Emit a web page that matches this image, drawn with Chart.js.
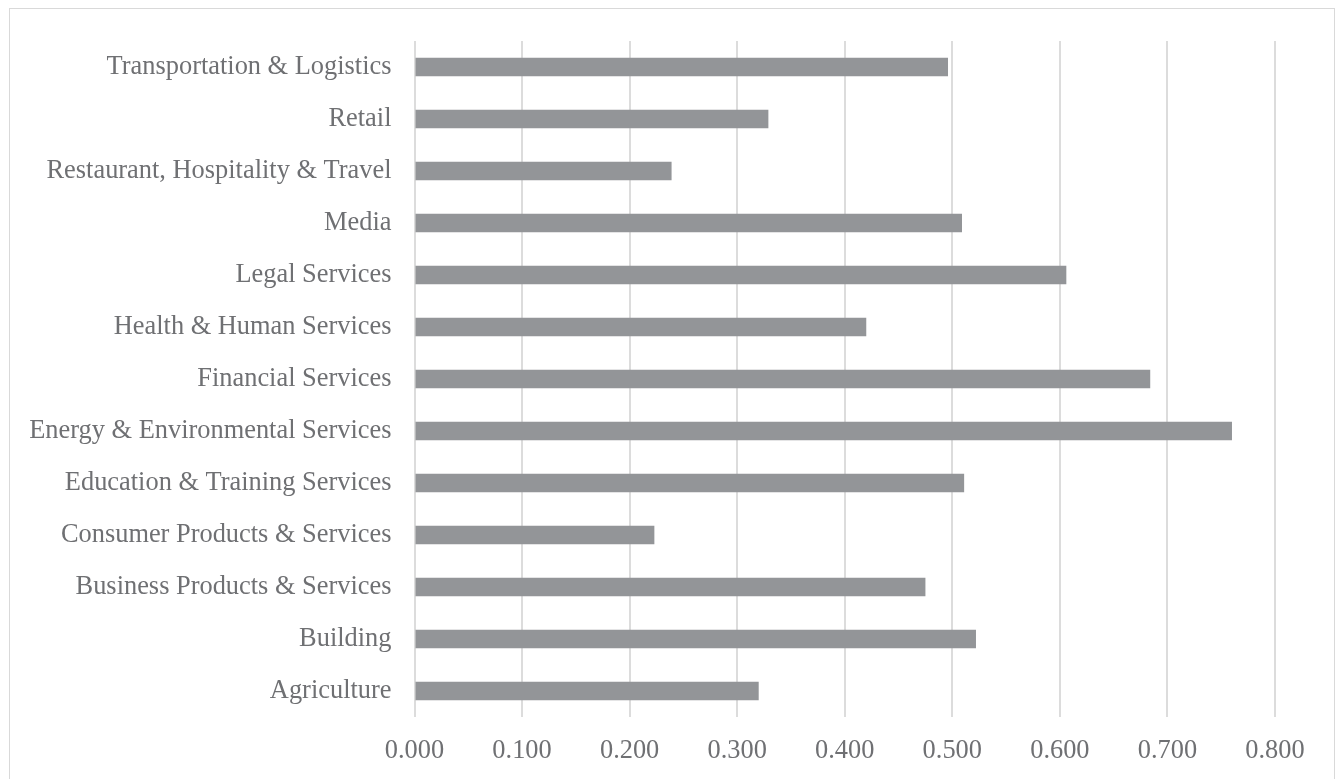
<!DOCTYPE html>
<html lang="en">
<head>
    <meta charset="UTF-8">
    <title>Industry chart</title>
    <script src="https://cdn.jsdelivr.net/npm/chart.js"></script>
    <style>
        html, body { margin: 0; padding: 0; background: #ffffff; }
        .moldura {
            position: absolute; left: 9px; top: 8px; width: 1326px; height: 790px;
            border: 1px solid #d9d9d9; box-sizing: border-box;
        }
        .grafico { position: absolute; left: 0; top: 0; width: 1337px; height: 779px; }
    </style>
</head>
<body>
    <div class="moldura"></div>
    <div class="grafico">
        <canvas id="myChart"></canvas>
    </div>

<script>
// dados (de cima para baixo)
const categorias = [
    'Transportation & Logistics',
    'Retail',
    'Restaurant, Hospitality & Travel',
    'Media',
    'Legal Services',
    'Health & Human Services',
    'Financial Services',
    'Energy & Environmental Services',
    'Education & Training Services',
    'Consumer Products & Services',
    'Business Products & Services',
    'Building',
    'Agriculture'
];
const valores = [0.496, 0.329, 0.239, 0.509, 0.606, 0.420, 0.684, 0.760, 0.511, 0.223, 0.475, 0.522, 0.320];
const ticksX = [0, 0.1, 0.2, 0.3, 0.4, 0.5, 0.6, 0.7, 0.8];

const corTexto = '#6f7073';
const fonte = { family: "'Liberation Serif', 'Times New Roman', serif", size: 26.4 };

const dados = {
    labels: categorias,
    datasets: [{
        data: valores,
        backgroundColor: '#939598',
        borderWidth: 0,
        categoryPercentage: 1,
        barPercentage: 0.352
    }]
};

const config = {
    type: 'bar',
    data: dados,
    options: {
        indexAxis: 'y',
        responsive: false,
        animation: false,
        layout: { padding: { left: 0, top: 41, right: 62, bottom: 0 } },
        plugins: { legend: { display: false }, tooltip: { enabled: false } },
        scales: {
            x: {
                min: 0,
                max: 0.8,
                afterBuildTicks: function (s) { s.ticks = ticksX.map(v => ({ value: v })); },
                afterFit: function (s) { s.height = 62; },
                grid: { color: '#dcdcdc', lineWidth: 2, drawTicks: false },
                border: { display: false },
                ticks: {
                    color: corTexto,
                    font: fonte,
                    padding: 18,
                    callback: v => v.toFixed(3)
                }
            },
            y: {
                afterFit: function (s) { s.width = 414.5; },
                grid: { display: false },
                border: { display: false },
                ticks: { color: corTexto, font: fonte, padding: 15, autoSkip: false }
            }
        }
    }
};

const canvas = document.getElementById('myChart');
canvas.width = 1337;
canvas.height = 779;
let myChart = new Chart(canvas, config);
</script>
</body>
</html>
